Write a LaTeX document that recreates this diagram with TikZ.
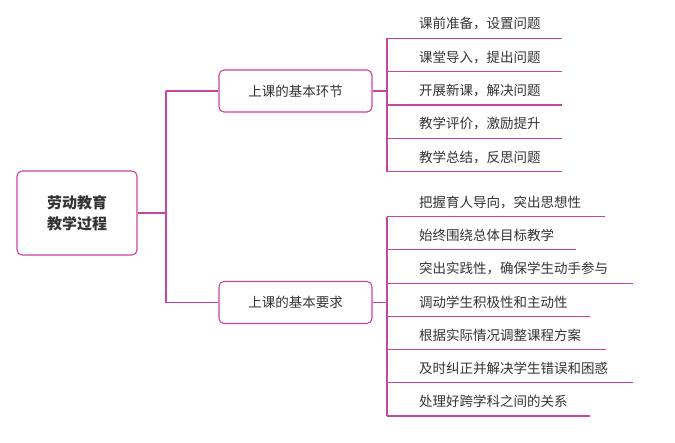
\documentclass[tikz,border=0pt]{standalone}
\usepackage{fontspec}
\setmainfont{Noto Sans CJK SC}
\newfontfamily\cjkbold[BoldFont={Noto Sans CJK SC Bold}]{Noto Sans CJK SC}
\definecolor{mag}{HTML}{C8459F}
\definecolor{txt}{HTML}{333333}
\begin{document}
\begin{tikzpicture}[x=1pt,y=-1pt,
  link/.style={draw=mag,line width=1.1pt},
  topbox/.style={draw=mag,line width=1.1pt,rounded corners=5pt,minimum width=153pt,minimum height=42pt,inner sep=0pt,text=txt,font=\fontsize{13.5}{16}\selectfont},
  rootbox/.style={draw=mag,line width=1.1pt,rounded corners=5pt,minimum width=120pt,minimum height=84pt,inner sep=0pt,text=txt,align=center,font=\fontsize{15}{21}\selectfont\bfseries},
  item/.style={anchor=west,inner sep=0pt,text=txt,font=\fontsize{13.5}{16}\selectfont}]
\useasboundingbox (0,0) rectangle (675,442);
\node[rootbox] (root) at (77,213) {劳动教育\\教学过程};
\node[topbox] (b1) at (295.5,91) {上课的基本环节};
\node[topbox] (b2) at (295.5,302.5) {上课的基本要求};
\coordinate (t1) at (166,91);
\coordinate (t2) at (166,302.5);
\coordinate (tr) at (166,213);
\draw[link] (root.east) -- (tr);
\draw[link] (t1) -- (t2);
\draw[link] (t1) -- (b1.west);
\draw[link] (t2) -- (b2.west);
% group 1
\coordinate (v1) at (387,91);
\draw[link] (b1.east) -- (v1);
\foreach \i/\t in {1/课前准备，设置问题,2/课堂导入，提出问题,3/开展新课，解决问题,4/教学评价，激励提升,5/教学总结，反思问题}{
  \node[item] (a\i) at (419,{38.3+33.35*(\i-1)-14.5}) {\t};
  \coordinate (al\i) at (387,{38.3+33.35*(\i-1)});
  \coordinate (ar\i) at (562,{38.3+33.35*(\i-1)});
  \draw[link] (al\i) -- (ar\i);
}
\draw[link] (al1) -- (al5);
% group 2
\coordinate (v2) at (387,302.5);
\draw[link] (b2.east) -- (v2);
\foreach \i/\t/\e in {1/把握育人导向，突出思想性/605,2/始终围绕总体目标教学/576,3/突出实践性，确保学生动手参与/633,4/调动学生积极性和主动性/590,5/根据实际情况调整课程方案/606,6/及时纠正并解决学生错误和困惑/633,7/处理好跨学科之间的关系/590}{
  \node[item] (c\i) at (419,{216.7+33.22*(\i-1)-14.5}) {\t};
  \coordinate (cl\i) at (387,{216.7+33.22*(\i-1)});
  \coordinate (cr\i) at (\e,{216.7+33.22*(\i-1)});
  \draw[link] (cl\i) -- (cr\i);
}
\draw[link] (cl1) -- (cl7);
\end{tikzpicture}
\end{document}
